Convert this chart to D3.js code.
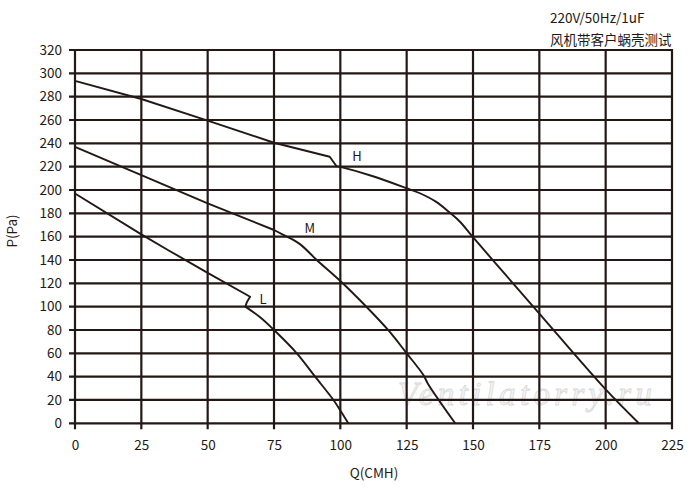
<!DOCTYPE html>
<html><head><meta charset="utf-8">
<script src="https://cdn.jsdelivr.net/npm/d3@7"></script>
<style>html,body{margin:0;padding:0;background:#fff;}svg{display:block;}</style>
</head><body>
<svg id="chart" width="700" height="496"></svg>
<script>
// ---- data ----
const xTicks = [0, 25, 50, 75, 100, 125, 150, 175, 200, 225];
const yTicks = [0, 20, 40, 60, 80, 100, 120, 140, 160, 180, 200, 220, 240, 260, 280, 300, 320];
const seriesNames = ["H", "M", "L"];
const hQ = [0, 25, 50, 75, 96, 98.5, 100, 112, 125, 130, 136, 141.3, 145.1, 150, 162, 175, 200, 212.5];
const hP = [293.5, 278, 259.5, 240.5, 228.5, 220.5, 219.8, 212, 201.5, 197.2, 190, 180.5, 172.8, 159.5, 128, 94, 29, 0];
const mQ = [0, 25, 50, 75, 80.4, 84.8, 91.1, 100, 110, 118, 125, 131.3, 133, 143.3];
const mP = [237, 212.8, 188.6, 165.7, 159.4, 153.6, 140, 122, 99.5, 80, 60, 41.4, 34, 0];
const lQ = [0, 25, 35, 50, 66, 64.8, 64.2, 70, 75, 83.6, 90.5, 97.4, 100, 103];
const lP = [197, 162, 148.6, 129, 108.5, 104, 100, 90.5, 80, 60, 40, 20, 11, 0];
const smoothFrom = [5, 4, 6]; // index where each curve stops being straight segments
const labelQP = [[104.5, 225], [86.5, 163], [69.5, 102]];
const titleLines = ["220V/50Hz/1uF", "风机带客户蜗壳测试"];
const xTitle = "Q(CMH)";
const yTitle = "P(Pa)";
const watermark = "Ventilatorry.ru";

const ink = "#231815";
const font = "'Noto Sans CJK SC','Noto Sans',sans-serif";
const svg = d3.select("#chart");
const x = d3.scaleLinear().domain([0, 225]).range([75, 672]);
const y = d3.scaleLinear().domain([0, 320]).range([423.3, 50]);

// watermark (behind)
svg.append("text")
  .attr("x", 398).attr("y", 405)
  .attr("font-family", "'Liberation Serif',serif").attr("font-style", "italic")
  .attr("font-size", 33).attr("textLength", 254)
  .attr("fill", "#f4f4f4").attr("stroke", "#d9d9d9").attr("stroke-width", 0.8)
  .text(watermark);

// grid
const grid = svg.append("g").attr("stroke", ink).attr("stroke-width", 2.2);
grid.selectAll("line.h").data(yTicks).join("line")
  .attr("x1", x(0) - 6).attr("x2", x(225) + 1)
  .attr("y1", d => y(d)).attr("y2", d => y(d));
grid.selectAll("line.v").data(xTicks).join("line")
  .attr("x1", d => x(d)).attr("x2", d => x(d))
  .attr("y1", y(320) - 1).attr("y2", y(0) + 6);

// axes (labels)
const ax = svg.append("g").attr("transform", `translate(0,${y(0)})`)
  .call(d3.axisBottom(x).tickValues(xTicks).tickSize(6).tickPadding(11));
const ay = svg.append("g").attr("transform", `translate(${x(0)},0)`)
  .call(d3.axisLeft(y).tickValues(yTicks).tickSize(6).tickPadding(7));
[ax, ay].forEach(g => {
  g.select(".domain").remove();
  g.selectAll(".tick line").attr("stroke", "none");
  g.selectAll("text").attr("font-family", font).attr("font-size", 13.5).attr("fill", ink);
});

// curves
const series = [[hQ, hP], [mQ, mP], [lQ, lP]];
const straight = d3.line().x(d => x(d[0])).y(d => y(d[1])).curve(d3.curveLinear);
const smooth = d3.line().x(d => x(d[0])).y(d => y(d[1])).curve(d3.curveCatmullRom.alpha(0.5));
svg.append("g").selectAll("path").data(series).join("path")
  .attr("d", (s, i) => {
    const pts = s[0].map((q, j) => [q, s[1][j]]);
    const k = smoothFrom[i];
    return straight(pts.slice(0, k + 1)) + smooth(pts.slice(k));
  })
  .attr("fill", "none").attr("stroke", ink).attr("stroke-width", 1.9)
  .attr("stroke-linejoin", "round");

// series labels
svg.append("g").selectAll("text").data(seriesNames).join("text")
  .attr("x", (d, i) => x(labelQP[i][0])).attr("y", (d, i) => y(labelQP[i][1]))
  .attr("font-family", font).attr("font-size", 13).attr("fill", ink)
  .text(d => d);

// title lines
svg.append("g").selectAll("text").data(titleLines).join("text")
  .attr("x", 550).attr("y", (d, i) => 23 + i * 22)
  .attr("font-family", font).attr("font-size", 13.5).attr("fill", ink)
  .text(d => d);

// axis titles
svg.append("text").attr("x", 374).attr("y", 478).attr("text-anchor", "middle")
  .attr("font-family", font).attr("font-size", 13.5).attr("fill", ink).text(xTitle);
svg.append("text").attr("transform", "translate(17,231) rotate(-90)").attr("text-anchor", "middle")
  .attr("font-family", font).attr("font-size", 13.5).attr("fill", ink).text(yTitle);
</script>
</body></html>
